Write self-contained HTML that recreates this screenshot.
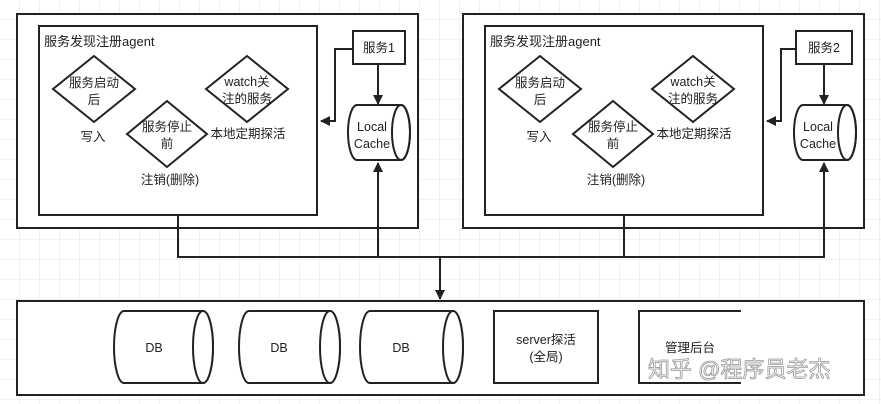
<!DOCTYPE html>
<html><head><meta charset="utf-8"><style>
html,body{margin:0;padding:0;background:#fff;}
svg{display:block;}
text{font-family:"Liberation Sans","Noto Sans CJK SC",sans-serif;fill:#222;}
</style></head><body>
<svg width="881" height="404" viewBox="0 0 881 404" xmlns="http://www.w3.org/2000/svg">
<defs>
<pattern id="g" width="20" height="20" patternUnits="userSpaceOnUse">
<path d="M20 0V20M0 20H20" fill="none" stroke="#e6e6e6" stroke-width="1"/>
</pattern>
<marker id="a" markerWidth="10" markerHeight="10" refX="9" refY="5" orient="auto" markerUnits="userSpaceOnUse">
<path d="M0,0 L10,5 L0,10 Z" fill="#222"/>
</marker>
<g id="panel">
<rect x="17" y="14" width="401" height="214" fill="#fff" stroke="#222" stroke-width="2"/>
<rect x="39" y="26" width="278" height="189" fill="#fff" stroke="#222" stroke-width="2"/>
<text x="44" y="46" font-size="13">服务发现注册agent</text>
<polygon points="94,56 135,89 94,122 53,89" fill="#fff" stroke="#222" stroke-width="2"/>
<text x="94" y="87" font-size="12.5" text-anchor="middle">服务启动</text>
<text x="94" y="104" font-size="12.5" text-anchor="middle">后</text>
<polygon points="247,56 288,89 247,122 206,89" fill="#fff" stroke="#222" stroke-width="2"/>
<text x="247" y="86" font-size="12.5" text-anchor="middle">watch关</text>
<text x="247" y="103" font-size="12.5" text-anchor="middle">注的服务</text>
<polygon points="167,101 207,134 167,167 127,134" fill="#fff" stroke="#222" stroke-width="2"/>
<text x="167" y="131" font-size="12.5" text-anchor="middle">服务停止</text>
<text x="167" y="148" font-size="12.5" text-anchor="middle">前</text>
<text x="93" y="141" font-size="12.5" text-anchor="middle">写入</text>
<text x="248" y="138" font-size="12.5" text-anchor="middle">本地定期探活</text>
<text x="170" y="184" font-size="12.5" text-anchor="middle">注销(删除)</text>
<path d="M353 49H335V121H321" fill="none" stroke="#222" stroke-width="2" marker-end="url(#a)"/>
<path d="M378 65V104" fill="none" stroke="#222" stroke-width="2" marker-end="url(#a)"/>
<path d="M357 105H401A9 27.5 0 0 1 401 160H357A9 27.5 0 0 1 357 105Z" fill="#fff" stroke="#222" stroke-width="2"/>
<ellipse cx="401" cy="132.5" rx="9" ry="27.5" fill="none" stroke="#222" stroke-width="2"/>
<text x="372" y="131" font-size="12.5" text-anchor="middle">Local</text>
<text x="372" y="148" font-size="12.5" text-anchor="middle">Cache</text>
</g>
</defs>
<rect width="881" height="404" fill="url(#g)"/>
<use href="#panel"/>
<use href="#panel" transform="translate(446,0)"/>
<rect x="353" y="31" width="52" height="33" fill="#fff" stroke="#222" stroke-width="2"/>
<text x="379" y="52" font-size="12.5" text-anchor="middle">服务1</text>
<rect x="796" y="31" width="56" height="33" fill="#fff" stroke="#222" stroke-width="2"/>
<text x="824" y="52" font-size="12.5" text-anchor="middle">服务2</text>
<path d="M178 216V257H378V163" fill="none" stroke="#222" stroke-width="2" marker-end="url(#a)"/>
<path d="M624 216V257H824V163" fill="none" stroke="#222" stroke-width="2" marker-end="url(#a)"/>
<path d="M378 257H624" stroke="#222" stroke-width="2"/>
<path d="M440 257V299" stroke="#222" stroke-width="2" marker-end="url(#a)"/>
<rect x="17" y="301" width="847" height="94" fill="#fff" stroke="#222" stroke-width="2"/>
<g stroke="#222" stroke-width="2" fill="#fff">
<path d="M124 311H203A10 36 0 0 1 203 383H124A10 36 0 0 1 124 311Z"/><ellipse cx="203" cy="347" rx="10" ry="36"/>
<path d="M249 311H330A10 36 0 0 1 330 383H249A10 36 0 0 1 249 311Z"/><ellipse cx="330" cy="347" rx="10" ry="36"/>
<path d="M370 311H453A10 36 0 0 1 453 383H370A10 36 0 0 1 370 311Z"/><ellipse cx="453" cy="347" rx="10" ry="36"/>
<rect x="494" y="311" width="104" height="72"/>
<path d="M741 311H639V383H741"/>
</g>
<text x="154" y="352" font-size="12.5" text-anchor="middle">DB</text>
<text x="279" y="352" font-size="12.5" text-anchor="middle">DB</text>
<text x="401" y="352" font-size="12.5" text-anchor="middle">DB</text>
<text x="546" y="344" font-size="12.5" text-anchor="middle">server探活</text>
<text x="546" y="361" font-size="12.5" text-anchor="middle">(全局)</text>
<text x="690" y="352" font-size="12.5" text-anchor="middle">管理后台</text>
<text x="648" y="377" font-size="22" style="fill:#fff;stroke:#999;stroke-width:0.8">知乎 @程序员老杰</text>
</svg>
</body></html>
